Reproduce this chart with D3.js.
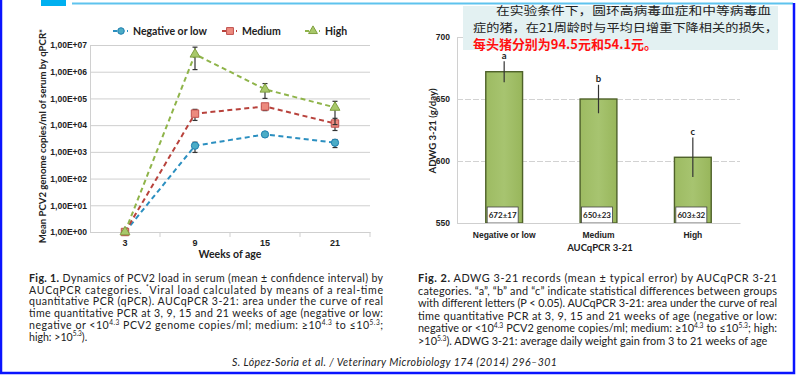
<!DOCTYPE html>
<html><head><meta charset="utf-8">
<script src="https://cdn.jsdelivr.net/npm/d3@7"></script>
<style>
html,body{margin:0;padding:0;background:#fff;}
svg{display:block;}
</style></head>
<body>
<svg id="c" width="796" height="375"></svg>
<script>
// ---------- DATA ----------
const weeks = ["3", "9", "15", "21"];
const seriesNames = ["Negative or low", "Medium", "High"];
const negMean = [1, 1700, 4500, 2200];
const negLow  = [1, 950, 3900, 1450];
const negHigh = [1, 2300, 5200, 2900];
const medMean = [1, 27000, 50000, 11500];
const medLow  = [1, 15000, 35000, 6300];
const medHigh = [1, 39000, 59000, 18000];
const highMean = [1, 4500000, 220000, 46000];
const highLow  = [1, 1200000, 100000, 10500];
const highHigh = [1, 8300000, 360000, 78000];
const logTicks = [1, 10, 100, 1000, 10000, 100000, 1000000, 10000000];

const barCats = ["Negative or low", "Medium", "High"];
const adwg = [672, 650, 603];
const adwgErr = [8.5, 11.5, 16];
const adwgSd = [17, 23, 32];
const letters = ["a", "b", "c"];
const barTicks = [550, 600, 650, 700];

const cnLines = ["在实验条件下，圆环高病毒血症和中等病毒血", "症的猪，在21周龄时与平均日增重下降相关的损失，", "每头猪分别为94.5元和54.1元。"];
const cap1 = [
 "**Fig. 1.** Dynamics of PCV2 load in serum (mean ± confidence interval) by",
 "AUCqPCR categories. ^{*}Viral load calculated by means of a real-time",
 "quantitative PCR (qPCR). AUCqPCR 3-21: area under the curve of real",
 "time quantitative PCR at 3, 9, 15 and 21 weeks of age (negative or low:",
 "negative or <10^{4.3} PCV2 genome copies/ml; medium: ≥10^{4.3} to ≤10^{5.3};",
 "high: >10^{5.3})."
];
const cap2 = [
 "**Fig. 2.** ADWG 3-21 records (mean ± typical error) by AUCqPCR 3-21",
 "categories. “a”, “b” and “c” indicate statistical differences between groups",
 "with different letters (P < 0.05). AUCqPCR 3-21: area under the curve of real",
 "time quantitative PCR at 3, 9, 15 and 21 weeks of age (negative or low:",
 "negative or <10^{4.3} PCV2 genome copies/ml; medium: ≥10^{4.3} to ≤10^{5.3}; high:",
 ">10^{5.3}). ADWG 3-21: average daily weight gain from 3 to 21 weeks of age"
];
const citation = "S. López-Soria et al. / Veterinary Microbiology 174 (2014) 296–301";

// ---------- DRAW ----------
const svg = d3.select("#c");
svg.append("rect").attr("width",796).attr("height",375).attr("fill","#fff");

// frame
svg.append("rect").attr("x",41).attr("y",0).attr("width",25).attr("height",6).attr("fill","#00b0f0");
svg.append("line").attr("x1",72).attr("x2",793).attr("y1",3.5).attr("y2",3.5).attr("stroke","#5ec3ee").attr("stroke-width",2);
svg.append("path").attr("d","M1,0 V373 H794 V3").attr("fill","none").attr("stroke","#0a14ff").attr("stroke-width",2.5);

// ===== Left chart =====
const x = d3.scaleBand().domain(weeks).range([90,370]);
const xc = d => x(d) + x.bandwidth()/2;
const y = d3.scaleLog().domain([1,1e7]).range([232,45]);
const L = svg.append("g").attr("font-family","Lato, 'Open Sans', sans-serif");

const fmtE = v => "1,00E+" + String(Math.round(Math.log10(v))).padStart(2,"0");
const yAx = L.append("g").attr("transform","translate(90,0)")
  .call(d3.axisLeft(y).tickValues(logTicks).tickFormat(fmtE).tickSize(-280).tickPadding(3));
yAx.select(".domain").attr("stroke","#d0d0d0");
yAx.selectAll(".tick line").attr("stroke","#cfcfcf").attr("stroke-width",1);
yAx.selectAll(".tick text").attr("font-size",8.5).attr("font-weight","bold").attr("fill","#222");

const xAx = L.append("g").attr("transform","translate(0,232)")
  .call(d3.axisBottom(x).tickSize(0).tickPadding(8));
xAx.select(".domain").attr("stroke","#cfcfcf");
xAx.selectAll(".tick text").attr("font-size",9).attr("font-weight","bold").attr("fill","#222");
L.selectAll(".bnd").data(weeks).enter().append("line")
  .attr("x1",d=>x(d)+x.bandwidth()).attr("x2",d=>x(d)+x.bandwidth())
  .attr("y1",232).attr("y2",237).attr("stroke","#cfcfcf");

L.append("text").attr("x",230).attr("y",258).attr("text-anchor","middle")
  .attr("font-size",10.5).attr("font-weight","bold").attr("fill","#222").text("Weeks of age");
L.append("text").attr("transform","translate(46,136) rotate(-90)").attr("text-anchor","middle")
  .attr("font-size",9.6).attr("font-weight","bold").attr("fill","#222")
  .text("Mean PCV2 genome copies/ml of serum by qPCR*");

const series = [
 {name:seriesNames[0], mean:negMean, lo:negLow, hi:negHigh, line:"#2b8fc0", fill:"#4bacc6", stroke:"#1f7fb0", shape:"circle"},
 {name:seriesNames[1], mean:medMean, lo:medLow, hi:medHigh, line:"#b8423c", fill:"#ec8a7e", stroke:"#c0504d", shape:"square"},
 {name:seriesNames[2], mean:highMean, lo:highLow, hi:highHigh, line:"#8fb44a", fill:"#a8c86a", stroke:"#7f9f3f", shape:"triangle"}
];
const sym = {circle:d3.symbolCircle, square:d3.symbolSquare, triangle:d3.symbolTriangle};
const symSize = {circle:42, square:55, triangle:42};
const line = d3.line().x((d,i)=>xc(weeks[i])).y(d=>y(d));

series.forEach(s=>{
  L.append("path").attr("d",line(s.mean)).attr("fill","none").attr("stroke",s.line)
   .attr("stroke-width",2).attr("stroke-dasharray","5,3.5");
});
series.forEach(s=>{
  const g = L.append("g");
  weeks.forEach((w,i)=>{
    if (s.hi[i] > s.lo[i]) {
      g.append("line").attr("x1",xc(w)).attr("x2",xc(w)).attr("y1",y(s.lo[i])).attr("y2",y(s.hi[i])).attr("stroke","#333").attr("stroke-width",1.2);
      [s.lo[i], s.hi[i]].forEach(v=>g.append("line").attr("x1",xc(w)-2.5).attr("x2",xc(w)+2.5).attr("y1",y(v)).attr("y2",y(v)).attr("stroke","#333").attr("stroke-width",1.2));
    }
    g.append("path").attr("d",d3.symbol(sym[s.shape],symSize[s.shape])())
      .attr("transform",`translate(${xc(w)},${y(s.mean[i])})`)
      .attr("fill",s.fill).attr("stroke",s.stroke).attr("stroke-width",1);
  });
});

// legend
const legX = [113, 222, 305];
series.forEach((s,i)=>{
  const g = L.append("g").attr("transform",`translate(${legX[i]},31)`);
  g.append("line").attr("x1",0).attr("x2",15).attr("y1",0).attr("y2",0).attr("stroke",s.line).attr("stroke-width",2).attr("stroke-dasharray","4,3");
  g.append("path").attr("d",d3.symbol(sym[s.shape],symSize[s.shape]-8)()).attr("transform","translate(8,0)")
   .attr("fill",s.fill).attr("stroke",s.stroke);
  g.append("text").attr("x",20).attr("y",3.8).attr("font-size",10.5).attr("font-weight","bold").attr("fill","#222").text(s.name);
});

// ===== Right chart =====
const xb = d3.scaleBand().domain(barCats).range([457,740]).paddingInner(0.61).paddingOuter(0.305);
const yb = d3.scaleLinear().domain([550,700]).range([223,37]);
const R = svg.append("g").attr("font-family","Lato, 'Open Sans', sans-serif");

const ybAx = R.append("g").attr("transform","translate(457,0)")
  .call(d3.axisLeft(yb).tickValues(barTicks).tickSize(-283).tickPadding(7).tickFormat(d3.format("d")));
ybAx.select(".domain").attr("stroke","#d0d0d0");
ybAx.selectAll(".tick line").attr("stroke","#d2d2d2").attr("stroke-dasharray",d=>d===550?null:"6,2");
ybAx.selectAll(".tick text").attr("font-size",8.5).attr("font-weight","bold").attr("fill","#222");

const grad = svg.append("defs").append("linearGradient").attr("id","bg").attr("x1",0).attr("x2",1);
grad.append("stop").attr("offset","0").attr("stop-color","#9dbb62");
grad.append("stop").attr("offset","0.5").attr("stop-color","#a7c470");
grad.append("stop").attr("offset","1").attr("stop-color","#98b65b");

R.selectAll(".bar").data(adwg).enter().append("rect")
  .attr("x",(d,i)=>xb(barCats[i])).attr("width",xb.bandwidth())
  .attr("y",d=>yb(d)).attr("height",d=>yb(550)-yb(d))
  .attr("fill","url(#bg)").attr("stroke","#4e6129").attr("stroke-width",1.4);

const bc = i => xb(barCats[i]) + xb.bandwidth()/2;
adwg.forEach((v,i)=>{
  const e = adwgErr[i];
  R.append("line").attr("x1",bc(i)).attr("x2",bc(i)).attr("y1",yb(v-e)).attr("y2",yb(v+e)).attr("stroke","#333").attr("stroke-width",1.2);
  R.append("rect").attr("x",bc(i)-17).attr("y",yb(550)-16).attr("width",31).attr("height",16)
   .attr("fill","#fff").attr("stroke","#444").attr("stroke-width",0.8);
  R.append("text").attr("x",bc(i)-1.5).attr("y",yb(550)-5).attr("text-anchor","middle")
   .attr("font-size",8).attr("font-weight","bold").attr("fill","#222").text(v + "±" + adwgSd[i]);
});

const xbAx = R.append("g").attr("transform","translate(0,223)").call(d3.axisBottom(xb).tickSize(0).tickPadding(9));
xbAx.select(".domain").attr("stroke","#cfcfcf");
xbAx.selectAll(".tick text").attr("font-size",8.5).attr("font-weight","bold").attr("fill","#222");
R.append("text").attr("x",600).attr("y",251).attr("text-anchor","middle")
  .attr("font-size",9.5).attr("font-weight","bold").attr("fill","#222").text("AUCqPCR 3-21");
R.append("text").attr("transform","translate(436,131) rotate(-90)").attr("text-anchor","middle")
  .attr("font-size",9.6).attr("font-weight","bold").attr("fill","#222").text("ADWG 3-21 (g/day)");

// Chinese note box
svg.append("rect").attr("x",463).attr("y",6).attr("width",315).attr("height",44).attr("fill","#e3f1f2");
const cn = svg.append("g").attr("font-family","'Noto Sans CJK SC', sans-serif");
cn.append("text").attr("x",496).attr("y",14.5).attr("font-size",11.8).attr("fill","#222")
  .attr("textLength",275).attr("lengthAdjust","spacingAndGlyphs").text(cnLines[0]);
cn.append("text").attr("x",473).attr("y",32).attr("font-size",11.8).attr("fill","#222")
  .attr("textLength",305).attr("lengthAdjust","spacingAndGlyphs").text(cnLines[1]);
cn.append("text").attr("x",473).attr("y",48.5).attr("font-size",12.8).attr("font-weight","bold").attr("fill","#ff1010")
  .attr("stroke","#fff").attr("stroke-width",0.4).attr("paint-order","stroke")
  .attr("textLength",184).attr("lengthAdjust","spacingAndGlyphs").text(cnLines[2]);

// significance letters (after the note box so they stay visible)
const Lt = svg.append("g").attr("font-family","Lato, 'Open Sans', sans-serif");
adwg.forEach((v,i)=>{
  Lt.append("text").attr("x",bc(i)).attr("y",yb(v+adwgErr[i])-2.5).attr("text-anchor","middle")
   .attr("font-size",9.5).attr("font-weight","bold").attr("fill","#222").text(letters[i]);
});

// captions
function richLine(g, str, x0, y0, fs, width) {
  const t = g.append("text").attr("x",x0).attr("y",y0).attr("font-size",fs).attr("fill","#222");
  const re = /(\*\*[^*]+\*\*|\^\{[^}]+\})/g;
  let back = 0;
  str.split(re).filter(s=>s.length).forEach(p=>{
    let ts;
    if (p.startsWith("**")) ts = t.append("tspan").attr("font-weight","bold").text(p.slice(2,-2));
    else if (p.startsWith("^{")) { ts = t.append("tspan").attr("font-size",fs*0.62).attr("dy",-fs*0.38 + back).text(p.slice(2,-1)); back = fs*0.38; return; }
    else ts = t.append("tspan").text(p);
    if (back) { ts.attr("dy",back); back = 0; }
  });
  if (width) t.attr("textLength",width).attr("lengthAdjust","spacing");
  return t;
}
const C = svg.append("g").attr("font-family","Lato, 'Open Sans', sans-serif");
cap1.forEach((s,i)=>richLine(C, s, 29, 282 + i*11.7, 10.6, i<cap1.length-1 ? 354 : null));
cap2.forEach((s,i)=>richLine(C, s, 418, 282 + i*12.6, 10.9, i<cap2.length-1 ? 359 : null));
C.append("text").attr("x",232).attr("y",366).attr("font-size",10.6).attr("font-style","italic").attr("fill","#222")
  .attr("textLength",325).attr("lengthAdjust","spacing").text(citation);
</script>
</body></html>
